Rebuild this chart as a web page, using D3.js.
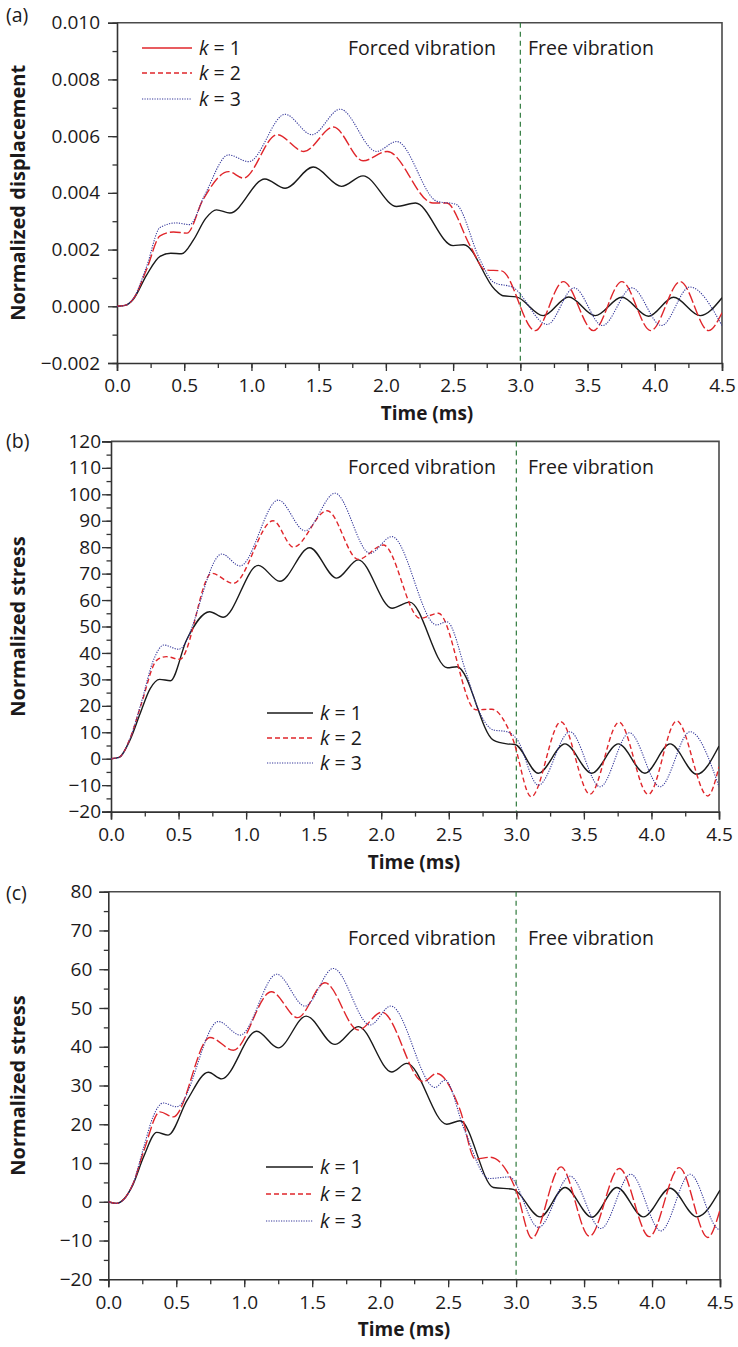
<!DOCTYPE html>
<html>
<head>
<meta charset="utf-8">
<script src="https://cdn.jsdelivr.net/npm/d3@7/dist/d3.min.js"></script>
<style>
  html, body { margin: 0; padding: 0; background: #fff; }
  svg { display: block; }
  text { font-family: "Open Sans", "Noto Sans", sans-serif; fill: #1c1a1b; }
</style>
</head>
<body>
<svg id="chart" width="738" height="1347"></svg>
<script>
// ---- time axis ----
const timeTicks = [0, 0.5, 1.0, 1.5, 2.0, 2.5, 3.0, 3.5, 4.0, 4.5];
const timeMinorTicks = d3.range(0, 4.51, 0.25);
const switchTime = 3.0;
const seriesNames = ["k = 1", "k = 2", "k = 3"];

// ---- (a) normalized displacement, [time ms, value] ----
const dispTicks = [-0.002, 0.000, 0.002, 0.004, 0.006, 0.008, 0.010];
const dispK1 = [[0,0],[0.06,0.00003],[0.12,0.00024],[0.22,0.0011],[0.32,0.00176],[0.4,0.00187],[0.48,0.00185],
  [0.57,0.00235],[0.66,0.0031],[0.74,0.0034],[0.84,0.00329],[1.1,0.00449],[1.25,0.00416],[1.46,0.00491],
  [1.67,0.00423],[1.83,0.0046],[2.08,0.00352],[2.22,0.00364],[2.5,0.00214],[2.58,0.00217],[2.81,0.00059],
  [2.87,0.00037],[2.97,0.00033],[3.17,-0.00033],[3.36,0.00033],[3.556,-0.00033],[3.755,0.00032],
  [3.953,-0.00035],[4.14,0.00032],[4.338,-0.00033],[4.5,0.0003]];
const dispK2 = [[0,0],[0.06,0.00003],[0.12,0.00025],[0.22,0.0013],[0.32,0.00248],[0.42,0.00262],[0.52,0.00258],
  [0.64,0.00376],[0.83,0.00475],[0.94,0.00452],[1.19,0.00605],[1.39,0.00546],[1.61,0.00632],[1.83,0.00513],
  [2.01,0.00546],[2.35,0.00364],[2.45,0.00364],[2.63,0.0021],[2.74,0.00128],[2.86,0.00125],[3.11,-0.00086],
  [3.32,0.00087],[3.544,-0.00086],[3.755,0.00087],[3.97,-0.00086],[4.19,0.00087],[4.4,-0.00086],[4.5,-0.00023]];
const dispK3 = [[0,0],[0.06,0.00003],[0.12,0.00026],[0.22,0.0014],[0.32,0.00278],[0.44,0.00294],[0.54,0.00288],
  [0.65,0.0039],[0.83,0.00534],[0.98,0.0051],[1.25,0.00677],[1.45,0.00605],[1.66,0.00695],[1.93,0.00546],
  [2.08,0.00581],[2.38,0.0037],[2.52,0.0036],[2.7,0.00164],[2.8,0.00085],[2.95,0.00065],[3.2,-0.00064],
  [3.4,0.00065],[3.61,-0.00068],[3.83,0.00065],[4.05,-0.00068],[4.26,0.00068],[4.5,-0.00068]];

// ---- (b) normalized stress ----
const stressBTicks = d3.range(-20, 121, 10);
const stressBK1 = [[0,0],[0.06,0.5],[0.14,7],[0.215,17],[0.29,26.5],[0.36,30],[0.44,29.5],[0.56,45],[0.73,55.6],
  [0.83,53.5],[1.09,73.1],[1.25,67.1],[1.47,79.8],[1.67,68.3],[1.83,75.2],[2.08,56.9],[2.21,59.2],[2.49,34.4],
  [2.56,34.8],[2.83,7],[2.93,5.6],[2.99,5.4],[3.163,-5.5],[3.36,5.6],[3.558,-5.5],[3.755,5.6],[3.952,-5.5],
  [4.138,5.6],[4.335,-5.9],[4.5,4.8]];
const stressBK2 = [[0,0],[0.06,0.5],[0.14,7.5],[0.22,20],[0.34,37.3],[0.41,38.6],[0.51,37.6],[0.745,70.1],
  [0.905,66.3],[1.2,90],[1.35,80],[1.6,93.8],[1.83,75.4],[2.016,80.8],[2.287,53.1],[2.423,55],[2.7,18.5],
  [2.82,18.7],[2.97,8],[3.11,-14.4],[3.33,14],[3.545,-13.4],[3.76,13.8],[3.977,-13.5],[4.187,14.3],
  [4.417,-14.1],[4.5,-3]];
const stressBK3 = [[0,0],[0.06,0.5],[0.14,7.5],[0.22,20.5],[0.32,38],[0.39,43],[0.5,41.4],[0.82,77.4],
  [0.955,72.9],[1.238,97.8],[1.436,86.2],[1.658,100.4],[1.917,77.7],[2.078,84],[2.41,50.6],[2.485,51.8],
  [2.63,32.3],[2.71,19.7],[2.83,10.9],[2.93,10.2],[3.0,7.7],[3.163,-10],[3.397,10.2],[3.62,-10.6],
  [3.837,9.8],[4.064,-10.6],[4.286,10.2],[4.5,-10.6]];

// ---- (c) normalized stress ----
const stressCTicks = d3.range(-20, 81, 10);
const stressCK1 = [[0,0],[0.06,-0.4],[0.18,4.3],[0.26,11.6],[0.356,17.9],[0.44,17.2],[0.58,26.2],[0.736,33.4],
  [0.834,31.7],[1.092,44],[1.25,39.7],[1.455,47.9],[1.668,40.6],[1.84,45.2],[2.085,33.5],[2.196,35.7],
  [2.49,20],[2.588,20.9],[2.833,3.7],[2.98,3.2],[3.177,-3.9],[3.36,3.7],[3.557,-4],[3.741,3.7],[3.937,-3.9],
  [4.133,3.5],[4.33,-3.9],[4.5,3]];
const stressCK2 = [[0,0],[0.06,-0.4],[0.18,4.5],[0.26,13],[0.38,23.2],[0.478,21.9],[0.748,42.4],[0.92,39.1],
  [1.2,54.2],[1.393,47.5],[1.594,56.5],[1.84,44.3],[2.012,48.9],[2.318,31],[2.416,33.1],[2.588,23.7],
  [2.7,11],[2.81,11.5],[2.93,8],[3.0,3],[3.116,-9.4],[3.33,9],[3.54,-8.9],[3.76,8.6],[3.98,-9],[4.2,8.8],
  [4.41,-9.2],[4.5,-2.1]];
const stressCK3 = [[0,0],[0.06,-0.4],[0.18,4.5],[0.26,14],[0.33,22],[0.405,25.5],[0.503,24.5],[0.81,46.5],
  [0.97,43],[1.239,58.7],[1.447,50.5],[1.656,60.2],[1.926,45.6],[2.078,50.5],[2.404,29.5],[2.478,31.4],
  [2.62,18.5],[2.8,6],[2.95,6.4],[3.164,-6.6],[3.397,6.6],[3.624,-6.9],[3.844,7.1],[4.065,-7.5],[4.28,7.1],
  [4.494,-7.1],[4.5,-7.1]];

const svg = d3.select("#chart");
const FS_TICK = 19;
const FS_TEXT = 19.5;
const FS_TITLE = 20;
const minus = s => s.replace("-", "\u2212");

const panels = [
  { id: "a", tag: "(a)", title: "Normalized displacement",
    x0: 117, x1: 722, yTop: 22.7, yBot: 363, domain: [-0.002, 0.010],
    ticks: dispTicks, minorStep: 0.001, fmt: d => minus(d3.format(".3f")(d)), tickPad: 8,
    series: [dispK1, dispK2, dispK3], redDash: "11,3",
    legendColors: ["#e0262b", "#e0262b", "#34379a"],
    legend: { x: 142, len: 50, ys: [48, 73, 99] }, textY: 48, timeX: 427, tagY: 15 },
  { id: "b", tag: "(b)", title: "Normalized stress",
    x0: 111, x1: 719, yTop: 441.4, yBot: 811.6, domain: [-20, 120],
    ticks: stressBTicks, minorStep: 5, fmt: d => minus(String(d)), tickPad: 1,
    series: [stressBK1, stressBK2, stressBK3], redDash: "5,3",
    legendColors: null,
    legend: { x: 267, len: 46, ys: [713, 738, 763] }, textY: 467, timeX: 414, tagY: 441 },
  { id: "c", tag: "(c)", title: "Normalized stress",
    x0: 108.3, x1: 720, yTop: 891.7, yBot: 1279.3, domain: [-20, 80],
    ticks: stressCTicks, minorStep: 5, fmt: d => minus(String(d)), tickPad: 7,
    series: [stressCK1, stressCK2, stressCK3], redDash: "11,3",
    legendColors: null,
    legend: { x: 266, len: 47, ys: [1167, 1194, 1221] }, textY: 938, timeX: 404, tagY: 893 }
];

const colors = ["#1a1a1a", "#e0262b", "#34379a"];
const widths = [1.4, 1.4, 1.1];

panels.forEach(p => {
  const x = d3.scaleLinear().domain([0, 4.5]).range([p.x0, p.x1]);
  const y = d3.scaleLinear().domain(p.domain).range([p.yBot, p.yTop]);
  const g = svg.append("g");

  svg.append("clipPath").attr("id", "clip-" + p.id)
    .append("rect").attr("x", p.x0).attr("y", p.yTop)
    .attr("width", p.x1 - p.x0).attr("height", p.yBot - p.yTop);

  // frame: top and right edges
  g.append("path")
    .attr("d", `M${p.x0},${p.yTop}H${p.x1}V${p.yBot}`)
    .attr("fill", "none").attr("stroke", "#4a4a4a").attr("stroke-width", 1.6);

  // minor ticks
  const yMinor = d3.range(p.domain[0], p.domain[1] + p.minorStep / 2, p.minorStep);
  g.append("g").attr("transform", `translate(${p.x0},0)`)
    .call(d3.axisLeft(y).tickValues(yMinor).tickSize(4.5).tickFormat(""))
    .call(s => s.select(".domain").remove());
  g.append("g").attr("transform", `translate(0,${p.yBot})`)
    .call(d3.axisBottom(x).tickValues(timeMinorTicks).tickSize(5).tickFormat(""))
    .call(s => s.select(".domain").remove());

  // major axes
  const ya = g.append("g").attr("transform", `translate(${p.x0},0)`)
    .call(d3.axisLeft(y).tickValues(p.ticks).tickSize(9).tickPadding(p.tickPad).tickFormat(p.fmt));
  const xa = g.append("g").attr("transform", `translate(0,${p.yBot})`)
    .call(d3.axisBottom(x).tickValues(timeTicks).tickSize(8).tickPadding(8).tickFormat(d3.format(".1f")));
  [ya, xa].forEach(a => {
    a.selectAll("text").attr("font-size", FS_TICK).attr("font-family", "Open Sans, sans-serif").attr("fill", "#1c1a1b");
    a.select(".domain").attr("stroke", "#333").attr("stroke-width", 1.6);
  });
  g.selectAll(".tick line").attr("stroke", "#333").attr("stroke-width", 1.3);

  // axis titles
  g.append("text").attr("x", p.timeX).attr("y", p.yBot + 57)
    .attr("text-anchor", "middle").attr("font-size", FS_TICK).attr("font-weight", "bold")
    .text("Time (ms)");
  g.append("text")
    .attr("transform", `translate(25,${(p.yTop + p.yBot) / 2}) rotate(-90)`)
    .attr("text-anchor", "middle").attr("font-size", FS_TITLE).attr("font-weight", "bold")
    .text(p.title);
  g.append("text").attr("x", 6).attr("y", p.tagY + 7).attr("font-size", FS_TEXT).text(p.tag);

  // regime boundary and labels
  g.append("line")
    .attr("x1", x(switchTime)).attr("x2", x(switchTime))
    .attr("y1", p.yTop).attr("y2", p.yBot)
    .attr("stroke", "#2f7a3c").attr("stroke-width", 1.2).attr("stroke-dasharray", "5,4");
  g.append("text").attr("x", 348).attr("y", p.textY + 7).attr("font-size", FS_TEXT).text("Forced vibration");
  g.append("text").attr("x", 528).attr("y", p.textY + 7).attr("font-size", FS_TEXT).text("Free vibration");

  // response curves
  const line = d3.line().x(d => x(d[0])).y(d => y(d[1])).curve(d3.curveMonotoneX);
  const dashes = [null, p.redDash, "1.2,1.3"];
  const lg = g.append("g").attr("clip-path", `url(#clip-${p.id})`);
  p.series.forEach((s, i) => {
    lg.append("path").datum(s).attr("d", line)
      .attr("fill", "none").attr("stroke", colors[i]).attr("stroke-width", widths[i])
      .attr("stroke-dasharray", dashes[i]);
  });

  // legend
  const legendDash = [null, "5,3", "1.2,1.3"];
  seriesNames.forEach((name, i) => {
    const ly = p.legend.ys[i];
    const c = p.legendColors ? p.legendColors[i] : colors[i];
    g.append("line").attr("x1", p.legend.x).attr("x2", p.legend.x + p.legend.len)
      .attr("y1", ly).attr("y2", ly).attr("stroke", c).attr("stroke-width", widths[i])
      .attr("stroke-dasharray", legendDash[i]);
    const t = g.append("text").attr("x", p.legend.x + p.legend.len + 7).attr("y", ly + 7)
      .attr("font-size", FS_TEXT);
    t.append("tspan").attr("font-style", "italic").text("k");
    t.append("tspan").text(name.slice(1));
  });
});
</script>
</body>
</html>
